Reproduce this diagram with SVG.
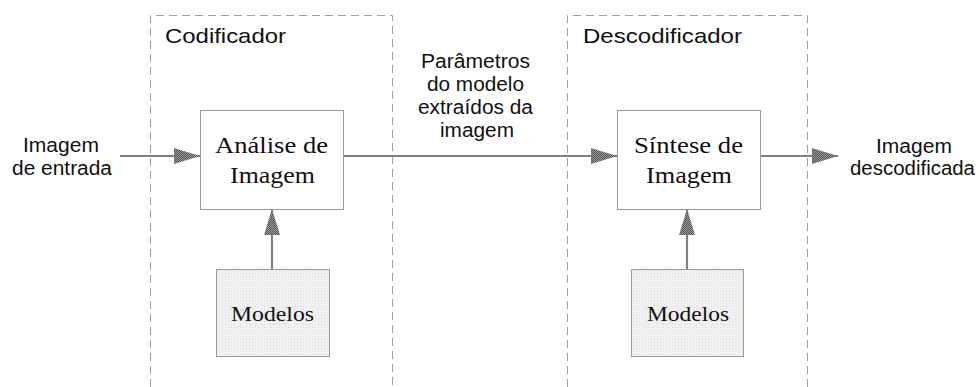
<svg xmlns="http://www.w3.org/2000/svg" width="980" height="387" viewBox="0 0 980 387">
  <defs>
    <pattern id="stipple" width="3" height="3" patternUnits="userSpaceOnUse">
      <rect width="3" height="3" fill="#f4f4f4"/>
      <rect width="1" height="1" fill="#d6d6d6"/>
      <rect x="1.5" y="1.5" width="1" height="1" fill="#dcdcdc"/>
    </pattern>
    <pattern id="hatch" width="2" height="2" patternUnits="userSpaceOnUse">
      <rect width="2" height="2" fill="#9a9a9a"/>
      <rect width="1" height="1" fill="#555"/>
      <rect x="1" y="1" width="1" height="1" fill="#555"/>
    </pattern>
    <marker id="head" markerWidth="26" markerHeight="18" refX="26" refY="9" orient="auto" markerUnits="userSpaceOnUse">
      <path d="M0,1 L26,9 L0,17 Z" fill="url(#hatch)"/>
    </marker>
  </defs>
  <style>
    .frame { fill: none; stroke: #a0a0a0; stroke-width: 1; stroke-dasharray: 8 5; }
    .box { fill: #ffffff; stroke: #9a9a9a; stroke-width: 1; }
    .model { fill: url(#stipple); stroke: #9a9a9a; stroke-width: 1; }
    .sans { font-family: "Liberation Sans", Arial, sans-serif; font-size: 20px; fill: #111; }
    .title { font-family: "Liberation Sans", Arial, sans-serif; font-size: 21px; fill: #111; }
    .serif { font-family: "Liberation Serif", "Times New Roman", serif; font-size: 24px; fill: #111; }
    .serif-s { font-family: "Liberation Serif", "Times New Roman", serif; font-size: 22px; fill: #111; }
    .wire { fill: none; stroke: #808080; stroke-width: 2.2; marker-end: url(#head); }
  </style>

  <!-- dashed stage frames -->
  <g id="codificador">
    <path class="frame" d="M150.5,387 V15.5 H392.5 V387"/>
    <text class="title" x="165" y="43" textLength="121" lengthAdjust="spacingAndGlyphs">Codificador</text>
  </g>
  <g id="descodificador">
    <path class="frame" d="M567.5,387 V15.5 H807.5 V387"/>
    <text class="title" x="583" y="43" textLength="159" lengthAdjust="spacingAndGlyphs">Descodificador</text>
  </g>

  <!-- connectors -->
  <g id="connectors">
    <line class="wire" x1="120" y1="156" x2="200" y2="156"/>
    <line class="wire" x1="343" y1="156" x2="617" y2="156"/>
    <line class="wire" x1="760" y1="156" x2="838" y2="156"/>
    <line class="wire" x1="272" y1="269" x2="272" y2="209"/>
    <line class="wire" x1="687" y1="269" x2="687" y2="209"/>
  </g>

  <g id="entrada">
    <text class="sans" x="23" y="152" textLength="76" lengthAdjust="spacingAndGlyphs">Imagem</text>
    <text class="sans" x="12" y="175" textLength="100" lengthAdjust="spacingAndGlyphs">de entrada</text>
  </g>

  <g id="analise">
    <rect class="box" x="200.5" y="110.5" width="143" height="99"/>
    <text class="serif" x="215" y="153" textLength="113" lengthAdjust="spacingAndGlyphs">Análise de</text>
    <text class="serif" x="230" y="183" textLength="85" lengthAdjust="spacingAndGlyphs">Imagem</text>
  </g>

  <g id="modelos-cod">
    <rect class="model" x="216.5" y="269.5" width="113" height="87"/>
    <text class="serif-s" x="231" y="321" textLength="83" lengthAdjust="spacingAndGlyphs">Modelos</text>
  </g>

  <g id="parametros">
    <text class="sans" x="421" y="68" textLength="109" lengthAdjust="spacingAndGlyphs">Parâmetros</text>
    <text class="sans" x="427" y="91" textLength="97" lengthAdjust="spacingAndGlyphs">do modelo</text>
    <text class="sans" x="418" y="114" textLength="115" lengthAdjust="spacingAndGlyphs">extraídos da</text>
    <text class="sans" x="440" y="137" textLength="74" lengthAdjust="spacingAndGlyphs">imagem</text>
  </g>

  <g id="sintese">
    <rect class="box" x="617.5" y="110.5" width="143" height="99"/>
    <text class="serif" x="634" y="153" textLength="109" lengthAdjust="spacingAndGlyphs">Síntese de</text>
    <text class="serif" x="646" y="183" textLength="86" lengthAdjust="spacingAndGlyphs">Imagem</text>
  </g>

  <g id="modelos-dec">
    <rect class="model" x="631.5" y="269.5" width="112" height="87"/>
    <text class="serif-s" x="647" y="321" textLength="82" lengthAdjust="spacingAndGlyphs">Modelos</text>
  </g>

  <g id="saida">
    <text class="sans" x="876" y="153" textLength="76" lengthAdjust="spacingAndGlyphs">Imagem</text>
    <text class="sans" x="850" y="175" textLength="125" lengthAdjust="spacingAndGlyphs">descodificada</text>
  </g>
</svg>
